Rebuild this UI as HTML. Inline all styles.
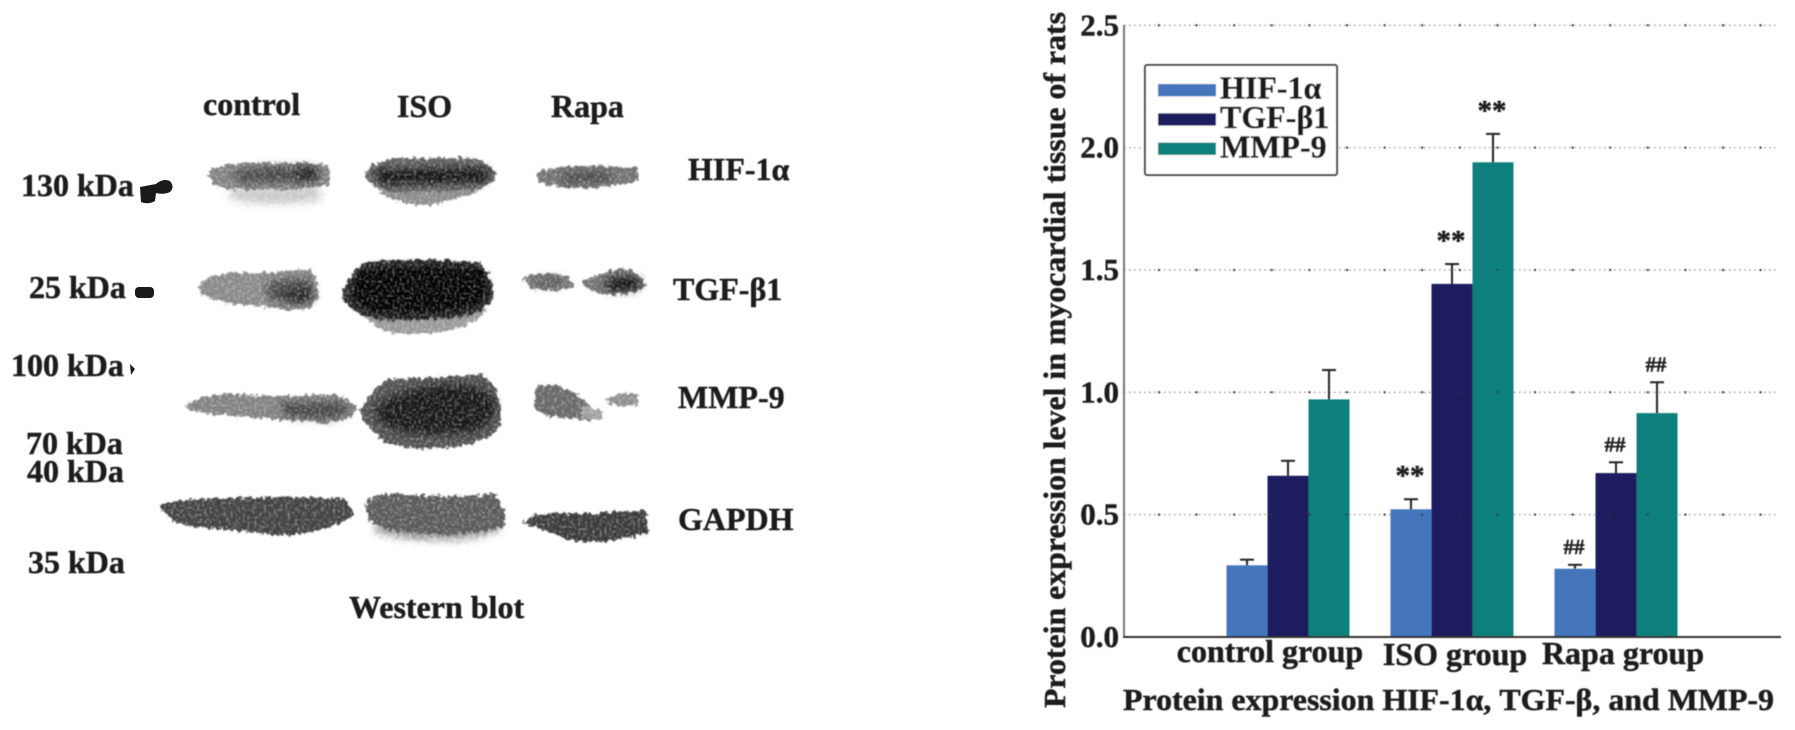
<!DOCTYPE html>
<html lang="en">
<head>
<meta charset="utf-8">
<title>Western blot and protein expression chart</title>
<style>
html,body{margin:0;padding:0;background:#fff;width:1795px;height:730px;overflow:hidden}
svg{display:block}
text{font-family:"Liberation Serif",serif;font-weight:700;fill:#1b1b1b;stroke:#1b1b1b;stroke-width:0.45px}
</style>
</head>
<body>
<svg id="figure" xmlns="http://www.w3.org/2000/svg" width="1795" height="730" viewBox="0 0 1795 730">
<defs>
<filter id="rough" filterUnits="userSpaceOnUse" x="0" y="0" width="800" height="730">
<feTurbulence type="fractalNoise" baseFrequency="0.24" numOctaves="2" seed="7" result="n"/>
<feDisplacementMap in="SourceGraphic" in2="n" scale="8" xChannelSelector="R" yChannelSelector="G" result="d"/>
<feTurbulence type="fractalNoise" baseFrequency="0.42" numOctaves="1" seed="3" result="g"/>
<feColorMatrix in="g" type="matrix" values="0 0 0 0 0  0 0 0 0 0  0 0 0 0 0  1.5 0 0 0 0.2" result="ga"/>
<feComposite in="d" in2="ga" operator="in" result="c"/>
<feGaussianBlur in="c" stdDeviation="0.9"/>
</filter>
<filter id="soft" filterUnits="userSpaceOnUse" x="0" y="0" width="800" height="730">
<feGaussianBlur stdDeviation="4"/>
</filter>
<filter id="inkblur" filterUnits="userSpaceOnUse" x="0" y="0" width="1795" height="730">
<feGaussianBlur stdDeviation="0.45"/>
</filter>
</defs>

<g>
<g font-size="32" filter="url(#inkblur)">
<text x="203" y="115">control</text>
<text x="397" y="117">ISO</text>
<text x="551" y="117">Rapa</text>
<text x="21" y="196">130 kDa</text>
<text x="29" y="298">25 kDa</text>
<text x="11" y="376">100 kDa</text>
<text x="26" y="454">70 kDa</text>
<text x="27" y="482">40 kDa</text>
<text x="28" y="573">35 kDa</text>
<text x="688" y="180">HIF-1α</text>
<text x="673" y="300">TGF-β1</text>
<text x="678" y="408">MMP-9</text>
<text x="678" y="530">GAPDH</text>
<text x="349" y="618">Western blot</text>
</g>

<g fill="#1a1a1a">
<path d="M140 187 L156 184 Q163 178 170 181 Q175 187 170 192 Q164 195 156 193 L155 201 Q148 205 141 202 Z"/>
<rect x="135" y="287" width="19" height="11" rx="4"/>
<path d="M130 364 L135 369 L131 375 Z"/>
</g>

<g>
<g filter="url(#rough)">
<path d="M228 188 L318 186 L322 200 Q270 208 232 200 Z" fill="#c8c8c8" filter="url(#soft)"/>
<path d="M208 170 Q240 160 285 163 Q320 161 330 168 L330 184 Q300 192 265 189 Q230 192 212 184 Z" fill="#808080"/>
<path d="M232 172 Q270 164 318 168 L320 180 Q280 184 240 182 Z" fill="#444" filter="url(#soft)"/>
<path d="M296 168 L316 168 L316 178 L298 180 Z" fill="#1f1f1f" filter="url(#soft)"/>
</g>
<g filter="url(#rough)">
<path d="M372 185 L488 183 Q478 195 450 200 Q430 208 410 204 Q385 198 372 185 Z" fill="#8a8a8a"/>
<path d="M364 175 Q372 160 400 158 L470 158 Q492 162 496 175 Q492 188 470 190 L395 192 Q370 188 364 175 Z" fill="#606060"/>
<path d="M374 170 L490 168 L486 182 L380 184 Z" fill="#111" filter="url(#soft)"/>
</g>
<g filter="url(#rough)">
<path d="M536 172 Q570 164 600 166 L638 168 L638 182 Q610 186 590 188 Q560 190 540 182 Z" fill="#707070"/>
<path d="M560 173 L610 172 L612 181 L565 183 Z" fill="#444" filter="url(#soft)"/>
</g>
<g filter="url(#rough)">
<path d="M198 286 Q205 274 240 273 Q280 272 310 269 Q320 282 318 298 Q312 310 295 311 Q260 306 225 303 Q200 298 198 286 Z" fill="#888"/>
<path d="M265 284 Q290 276 312 280 L314 300 Q290 306 270 300 Z" fill="#444" filter="url(#soft)"/>
<path d="M285 292 L310 288 L310 300 L290 302 Z" fill="#222" filter="url(#soft)"/>
</g>
<g filter="url(#rough)">
<path d="M358 312 L488 310 Q475 322 460 328 Q430 336 392 333 Q370 325 358 312 Z" fill="#989898"/>
<path d="M342 296 Q350 268 368 262 Q420 258 478 262 Q494 275 494 295 Q490 310 465 316 Q420 322 380 320 Q350 315 342 296 Z" fill="#2a2a2a"/>
<path d="M350 295 Q356 272 372 268 Q420 264 474 268 Q488 278 488 294 Q484 306 462 311 Q420 316 384 314 Q356 310 350 295 Z" fill="#000" filter="url(#soft)"/>
<path d="M355 295 L484 292 L484 270 L360 270 Z" fill="#000"/>
</g>
<g filter="url(#rough)">
<path d="M524 277 Q545 270 565 276 Q576 282 574 288 Q555 293 535 289 Q524 285 524 277 Z" fill="#777"/>
<path d="M535 278 L562 278 L562 286 L535 286 Z" fill="#555" filter="url(#soft)"/>
</g>
<g filter="url(#rough)">
<path d="M582 283 Q595 272 625 268 Q644 274 645 285 Q640 294 615 295 Q590 294 582 283 Z" fill="#707070"/>
<path d="M605 281 Q625 274 640 279 L640 288 Q622 293 608 290 Z" fill="#111" filter="url(#soft)"/>
</g>
<g filter="url(#rough)">
<path d="M184 406 Q205 394 230 394 Q280 398 335 394 Q350 400 358 410 Q345 422 325 423 Q280 420 225 415 Q195 414 184 406 Z" fill="#808080"/>
<path d="M280 402 L345 402 L350 412 L330 420 L285 416 Z" fill="#444" filter="url(#soft)"/>
</g>
<g filter="url(#rough)">
<path d="M361 410 Q375 385 388 379 Q440 378 482 374 Q498 385 500 405 Q505 425 492 435 Q470 448 425 449 Q395 448 380 438 Q362 425 361 410 Z" fill="#4f4f4f"/>
<path d="M375 408 Q395 390 440 385 Q480 382 495 400 Q498 425 470 432 Q420 438 390 428 Q376 420 375 408 Z" fill="#141414" filter="url(#soft)"/>
</g>
<g filter="url(#rough)">
<path d="M536 388 Q548 382 565 388 Q585 398 592 408 L604 418 Q590 422 570 418 Q545 418 534 408 Z" fill="#666"/>
<path d="M582 405 L604 412 L600 420 L580 417 Z" fill="#a0a0a0"/>
</g>
<g filter="url(#rough)">
<path d="M606 398 L622 393 L638 395 L638 405 L620 406 L608 404 Z" fill="#8c8c8c"/>
</g>
<g filter="url(#rough)">
<path d="M160 505 Q180 498 240 498 Q310 496 345 500 Q354 508 352 516 Q335 530 290 535 Q240 532 195 527 Q165 522 160 505 Z" fill="#404040"/>
</g>
<g filter="url(#rough)">
<path d="M372 530 Q395 540 440 540 Q490 540 504 525 L490 520 L385 520 Z" fill="#8c8c8c" filter="url(#soft)"/>
<path d="M366 505 Q370 493 395 494 Q450 498 495 494 Q506 508 505 526 Q480 535 440 534 Q395 534 375 525 Q366 518 366 505 Z" fill="#585858"/>
</g>
<g filter="url(#rough)">
<path d="M522 523 Q535 510 570 514 Q610 512 646 510 L648 534 Q625 538 600 542 Q570 544 545 530 Z" fill="#383838"/>
</g>
</g>
</g>

<g id="chart" filter="url(#inkblur)"></g>
</svg>

<script>
const categories = ['control group', 'ISO group', 'Rapa group'];
const seriesNames = ['HIF-1α', 'TGF-β1', 'MMP-9'];
const hif1aValues = [0.293, 0.522, 0.279];
const tgfb1Values = [0.659, 1.443, 0.670];
const mmp9Values = [0.971, 1.940, 0.915];
const hif1aErrors = [0.023, 0.041, 0.016];
const tgfb1Errors = [0.061, 0.081, 0.044];
const mmp9Errors = [0.120, 0.116, 0.126];
const hif1aMarks = ['', '**', '##'];
const tgfb1Marks = ['', '**', '##'];
const mmp9Marks = ['', '**', '##'];
const yTickValues = [0, 0.5, 1.0, 1.5, 2.0, 2.5];
const yTickLabels = ['0.0', '0.5', '1.0', '1.5', '2.0', '2.5'];
const yAxisTitle = 'Protein expression level in myocardial tissue of rats';
const xAxisTitle = 'Protein expression HIF-1α, TGF-β, and MMP-9';

const seriesColors = ['#4476bc', '#1e1d5f', '#0b7f7c'];
const seriesKeys = ['hif1a', 'tgfb1', 'mmp9'];
const seriesValues = [hif1aValues, tgfb1Values, mmp9Values];
const seriesErrors = [hif1aErrors, tgfb1Errors, mmp9Errors];
const seriesMarks = [hif1aMarks, tgfb1Marks, mmp9Marks];

const axisLeft = 1124, axisRight = 1781, baselineY = 637, unitPx = 244.7;
const bandStep = 164, barWidth = 41;
const labelNudge = [-18, 3, 7];
const labelLift = [-2, 1, 0];

function yScale(v) { return baselineY - v * unitPx; }
function groupCenter(i) { return axisLeft + bandStep * (i + 1); }
function barLeft(i, s) { return groupCenter(i) + (s - 1.5) * barWidth; }

const chart = document.getElementById('chart');
function make(tag, attrs, text) {
  const el = document.createElementNS('http://www.w3.org/2000/svg', tag);
  for (const k in attrs) el.setAttribute(k, attrs[k]);
  if (text !== undefined) el.textContent = text;
  chart.appendChild(el);
  return el;
}

yTickValues.forEach(function (v, t) {
  const line = make('line', { x1: axisLeft, x2: 1777, y1: yScale(v), y2: yScale(v), stroke: '#9a9a9a', 'stroke-width': 1.3, 'stroke-dasharray': '1.6 3.4' });
  
  
  if (v === 0) line.setAttribute('visibility', 'hidden');
});

seriesValues.forEach(function (values, s) {
  values.forEach(function (v, i) {
    const bar = make('rect', { x: barLeft(i, s), y: yScale(v), width: barWidth, height: baselineY - yScale(v), fill: seriesColors[s] });
    
    
  });
});

yTickValues.forEach(function (v, t) {
  if (v === 0) return;
  const dots = make('line', { x1: axisLeft + 34, x2: 1777, y1: yScale(v), y2: yScale(v), stroke: '#333', 'stroke-width': 2, 'stroke-dasharray': '2 35.6' });
  
  
});

seriesValues.forEach(function (values, s) {
  values.forEach(function (v, i) {
    const cx = barLeft(i, s) + barWidth / 2;
    const top = yScale(v + seriesErrors[s][i]);
    const stem = make('line', { x1: cx, x2: cx, y1: yScale(v), y2: top, stroke: '#222', 'stroke-width': 2 });
    
    
    const cap = make('line', { x1: cx - 7, x2: cx + 7, y1: top, y2: top, stroke: '#222', 'stroke-width': 2 });
    
    
    const mark = seriesMarks[s][i];
    if (mark) {
      const isStar = mark === '**';
      const note = make('text', { x: cx - 1, y: top + (isStar ? -14 : -11), 'text-anchor': 'middle', 'font-size': isStar ? 29 : 21 }, mark);
      
      
    }
  });
});

const yAxisLine = make('line', { x1: axisLeft, x2: axisLeft, y1: 25, y2: baselineY, stroke: '#777', 'stroke-width': 2 });


const xAxisLine = make('line', { x1: axisLeft - 1, x2: axisRight, y1: baselineY, y2: baselineY, stroke: '#333', 'stroke-width': 2 });



yTickLabels.forEach(function (label, t) {
  const tick = make('text', { x: 1119, y: yScale(yTickValues[t]) + 10, 'text-anchor': 'end', 'font-size': 31 }, label);
  
  
});

categories.forEach(function (label, i) {
  const cat = make('text', { x: groupCenter(i) + labelNudge[i], y: 664 + labelLift[i], 'text-anchor': 'middle', 'font-size': 32 }, label);
  
  
});

const yTitle = make('text', { x: 0, y: 0, transform: 'translate(1065 708) rotate(-90)', 'font-size': 31, textLength: 696, lengthAdjust: 'spacingAndGlyphs' }, yAxisTitle);


const xTitle = make('text', { x: 1123, y: 710, 'font-size': 31, textLength: 651, lengthAdjust: 'spacingAndGlyphs' }, xAxisTitle);



const legendBox = make('rect', { x: 1145, y: 65, width: 192, height: 110, rx: 2, fill: '#fff', stroke: '#444', 'stroke-width': 2 });


seriesNames.forEach(function (name, s) {
  const swatch = make('rect', { x: 1158, y: 84 + s * 29.3, width: 58, height: 12.3, fill: seriesColors[s] });
  
  
  const entry = make('text', { x: 1220, y: 98.5 + s * 29.5, 'font-size': 32 }, name);
  
  
});
</script>
</body>
</html>
